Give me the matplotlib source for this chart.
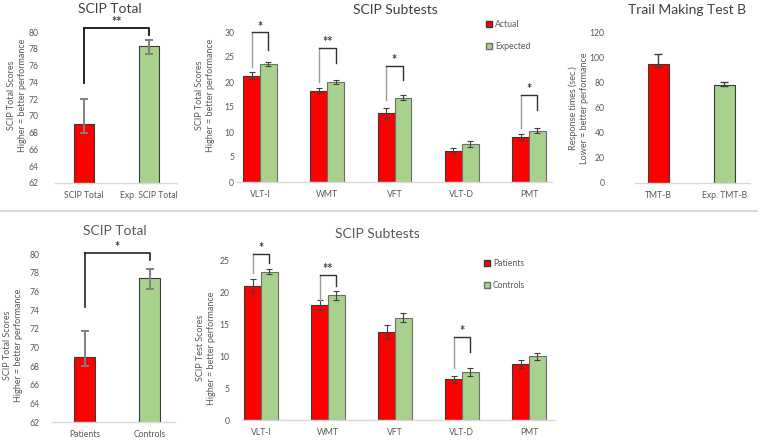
import matplotlib
matplotlib.use("Agg")
import matplotlib.pyplot as plt
from matplotlib.lines import Line2D
from matplotlib.patches import Patch

plt.rcParams['font.family'] = ['Lato', 'DejaVu Sans']

# ---- data ----
total_top_labels = ["SCIP Total", "Exp. SCIP Total"]
total_top_vals = [69.0, 78.3]
total_top_err_lo = [1.0, 0.9]
total_top_err_hi = [3.0, 0.7]

subtests = ["VLT-I", "WMT", "VFT", "VLT-D", "PMT"]
actual_vals = [21.2, 18.2, 13.8, 6.2, 9.0]
actual_err = [0.7, 0.5, 1.0, 0.5, 0.6]
expected_vals = [23.5, 19.9, 16.8, 7.5, 10.2]
expected_err = [0.4, 0.4, 0.5, 0.6, 0.5]

tmt_labels = ["TMT-B", "Exp. TMT-B"]
tmt_vals = [94.3, 78.1]
tmt_err_lo = [2.0, 1.2]
tmt_err_hi = [8.2, 2.4]

total_bot_labels = ["Patients", "Controls"]
total_bot_vals = [69.0, 77.4]
total_bot_err_lo = [1.0, 1.1]
total_bot_err_hi = [2.8, 1.0]

patients_vals = [21.0, 18.0, 13.8, 6.35, 8.75]
patients_err = [1.0, 0.8, 1.1, 0.6, 0.7]
controls_vals = [23.2, 19.5, 16.0, 7.45, 9.95]
controls_err = [0.4, 0.7, 0.7, 0.6, 0.5]

# significance brackets: (category, top, left bottom, right bottom, label)
top_sig = [(0, 29.9, 23.0, 26.3, "*"), (1, 26.8, 20.0, 23.7, "**"),
           (2, 23.2, 16.3, 20.3, "*"), (4, 17.3, 10.7, 14.3, "*")]
bot_sig = [(0, 26.0, 22.9, 24.5, "*"), (1, 22.7, 18.75, 21.0, "**"),
           (3, 12.9, 8.1, 10.7, "*")]

RED = "#ff0000"
GREEN = "#a9d18e"
EDGE = "#3a3a3a"
TXT = "#595959"

W, H = 762, 440
fig = plt.figure(figsize=(W / 100, H / 100), dpi=100)


def add_ax(l, r, t, b):
    return fig.add_axes([l / W, 1 - b / H, (r - l) / W, (b - t) / H])


def style(ax, pad_y):
    for s in ["top", "right", "left"]:
        ax.spines[s].set_visible(False)
    ax.spines["bottom"].set_color("#d9d9d9")
    ax.spines["bottom"].set_linewidth(1.0)
    ax.tick_params(length=0, labelsize=6.2, labelcolor=TXT)
    ax.tick_params(axis="y", pad=pad_y)
    ax.tick_params(axis="x", pad=6)


def bracket(ax, x0, x1, top, lb, rb, label, color="#303030", lw=1.0, left_color=None):
    ax.plot([x0, x0], [lb, top], color=left_color or color, lw=lw, clip_on=False)
    ax.plot([x0, x1, x1], [top, top, rb], color=color, lw=lw, clip_on=False)
    ax.text((x0 + x1) / 2, top, label, ha="center", va="bottom", fontsize=9,
            fontweight="bold", color="#404040", clip_on=False)


def two_bar_panel(ax, labels, vals, lo, hi, ylim, yticks, ecolor, elw):
    xs = range(len(labels))
    ax.bar(xs, vals, width=0.32, color=[RED, GREEN], edgecolor=EDGE, linewidth=0.8)
    ax.errorbar(xs, vals, yerr=[lo, hi], fmt="none", ecolor=ecolor, elinewidth=elw,
                capsize=3, capthick=elw)
    ax.set_ylim(*ylim)
    ax.set_yticks(yticks)
    ax.set_xticks(list(xs))
    ax.set_xticklabels(labels)


def group_panel(ax, a_vals, a_err, b_vals, b_err):
    xs = list(range(len(subtests)))
    bw = 0.25
    ax.bar([x - bw / 2 for x in xs], a_vals, width=bw, color=RED, edgecolor=EDGE, linewidth=0.8)
    ax.bar([x + bw / 2 for x in xs], b_vals, width=bw, color=GREEN, edgecolor="#6d6d6d", linewidth=0.8)
    ax.errorbar([x - bw / 2 for x in xs], a_vals, yerr=a_err, fmt="none", ecolor="#404040",
                elinewidth=0.8, capsize=2.5, capthick=0.8)
    ax.errorbar([x + bw / 2 for x in xs], b_vals, yerr=b_err, fmt="none", ecolor="#404040",
                elinewidth=0.8, capsize=2.5, capthick=0.8)
    ax.set_xticks(xs)
    ax.set_xticklabels(subtests)
    return bw


# ---- top left ----
ax1 = add_ax(55, 177, 32, 183)
two_bar_panel(ax1, total_top_labels, total_top_vals, total_top_err_lo, total_top_err_hi,
              (62, 80), range(62, 81, 2), "#808080", 1.4)
ax1.set_xlim(-0.446, 1.43)
style(ax1, 12)
bracket(ax1, 0, 1, 80.5, 73.9, 79.6, "**", color="#111111", lw=1.3)

# ---- top middle ----
ax2 = add_ax(237, 552, 32, 182)
bw = group_panel(ax2, actual_vals, actual_err, expected_vals, expected_err)
ax2.set_ylim(0, 30)
ax2.set_yticks(range(0, 31, 5))
ax2.set_xlim(-0.342, 4.342)
style(ax2, 2)
for c, top, lb, rb, lab in top_sig:
    bracket(ax2, c - bw / 2, c + bw / 2, top, lb, rb, lab, left_color="#9a9a9a")
ax2.legend(handles=[Patch(facecolor=RED, edgecolor=EDGE, label="Actual"),
                    Patch(facecolor=GREEN, edgecolor="#6d6d6d", label="Expected")],
           loc="upper left", bbox_to_anchor=((483 - 237) / 315, 1 + 15 / 150),
           frameon=False, fontsize=6.2, labelcolor=TXT, handlelength=0.7, handleheight=0.7,
           handletextpad=0.3, labelspacing=1.5, borderaxespad=0)

# ---- top right ----
ax3 = add_ax(635, 750, 32, 183)
two_bar_panel(ax3, tmt_labels, tmt_vals, tmt_err_lo, tmt_err_hi,
              (0, 120), range(0, 121, 20), "#404040", 1.0)
ax3.set_xlim(-0.35, 1.39)
style(ax3, 22)

# ---- bottom left ----
ax4 = add_ax(52, 175, 254, 422)
two_bar_panel(ax4, total_bot_labels, total_bot_vals, total_bot_err_lo, total_bot_err_hi,
              (62, 80), range(62, 81, 2), "#808080", 1.4)
ax4.set_xlim(-0.5, 1.39)
style(ax4, 9)
bracket(ax4, 0, 1, 80.1, 74.3, 79.4, "*", color="#222222", lw=1.2)

# ---- bottom middle ----
ax5 = add_ax(242, 555, 260, 420)
bw = group_panel(ax5, patients_vals, patients_err, controls_vals, controls_err)
ax5.set_ylim(0, 25)
ax5.set_yticks(range(0, 26, 5))
ax5.set_xlim(-0.284, 4.39)
style(ax5, 9)
for c, top, lb, rb, lab in bot_sig:
    bracket(ax5, c - bw / 2, c + bw / 2, top, lb, rb, lab, left_color="#9a9a9a")
ax5.legend(handles=[Patch(facecolor=RED, edgecolor=EDGE, label="Patients"),
                    Patch(facecolor=GREEN, edgecolor="#6d6d6d", label="Controls")],
           loc="upper left", bbox_to_anchor=((481 - 242) / 313, 1 + 4 / 160),
           frameon=False, fontsize=6.2, labelcolor=TXT, handlelength=0.7, handleheight=0.7,
           handletextpad=0.3, labelspacing=1.5, borderaxespad=0)

# ---- titles ----
def ftext(x, y, s, **kw):
    fig.text(x / W, 1 - y / H, s, **kw)

ftext(110, 9, "SCIP Total", ha="center", va="center", fontsize=10, color="#404040")
ftext(395, 10, "SCIP Subtests", ha="center", va="center", fontsize=10, color="#404040")
ftext(687, 10, "Trail Making Test B", ha="center", va="center", fontsize=10, color="#404040")
ftext(115, 231, "SCIP Total", ha="center", va="center", fontsize=10, color="#595959")
ftext(377, 234, "SCIP Subtests", ha="center", va="center", fontsize=10, color="#595959")

# ---- y labels ----
ylab_kw = dict(rotation=90, ha="center", va="center", fontsize=6.5, color=TXT,
               multialignment="center", linespacing=1.3)
ftext(17, 95, "SCIP Total Scores\nHigher = better performance", **ylab_kw)
ftext(205, 95, "SCIP Total Scores\nHigher = better performance", **ylab_kw)
ftext(579, 108, "Response times (sec.)\nLower = better performance", **ylab_kw)
ftext(13, 345, "SCIP Total Scores\nHigher = better performance", **ylab_kw)
ftext(206, 348, "SCIP Test Scores\nHigher = better performance", **ylab_kw)

# separator between the two rows
fig.add_artist(Line2D([0, 757 / W], [1 - 211 / H] * 2, color="#d9d9d9", lw=1.5))

fig.savefig("out.png", dpi=100, facecolor="white")
